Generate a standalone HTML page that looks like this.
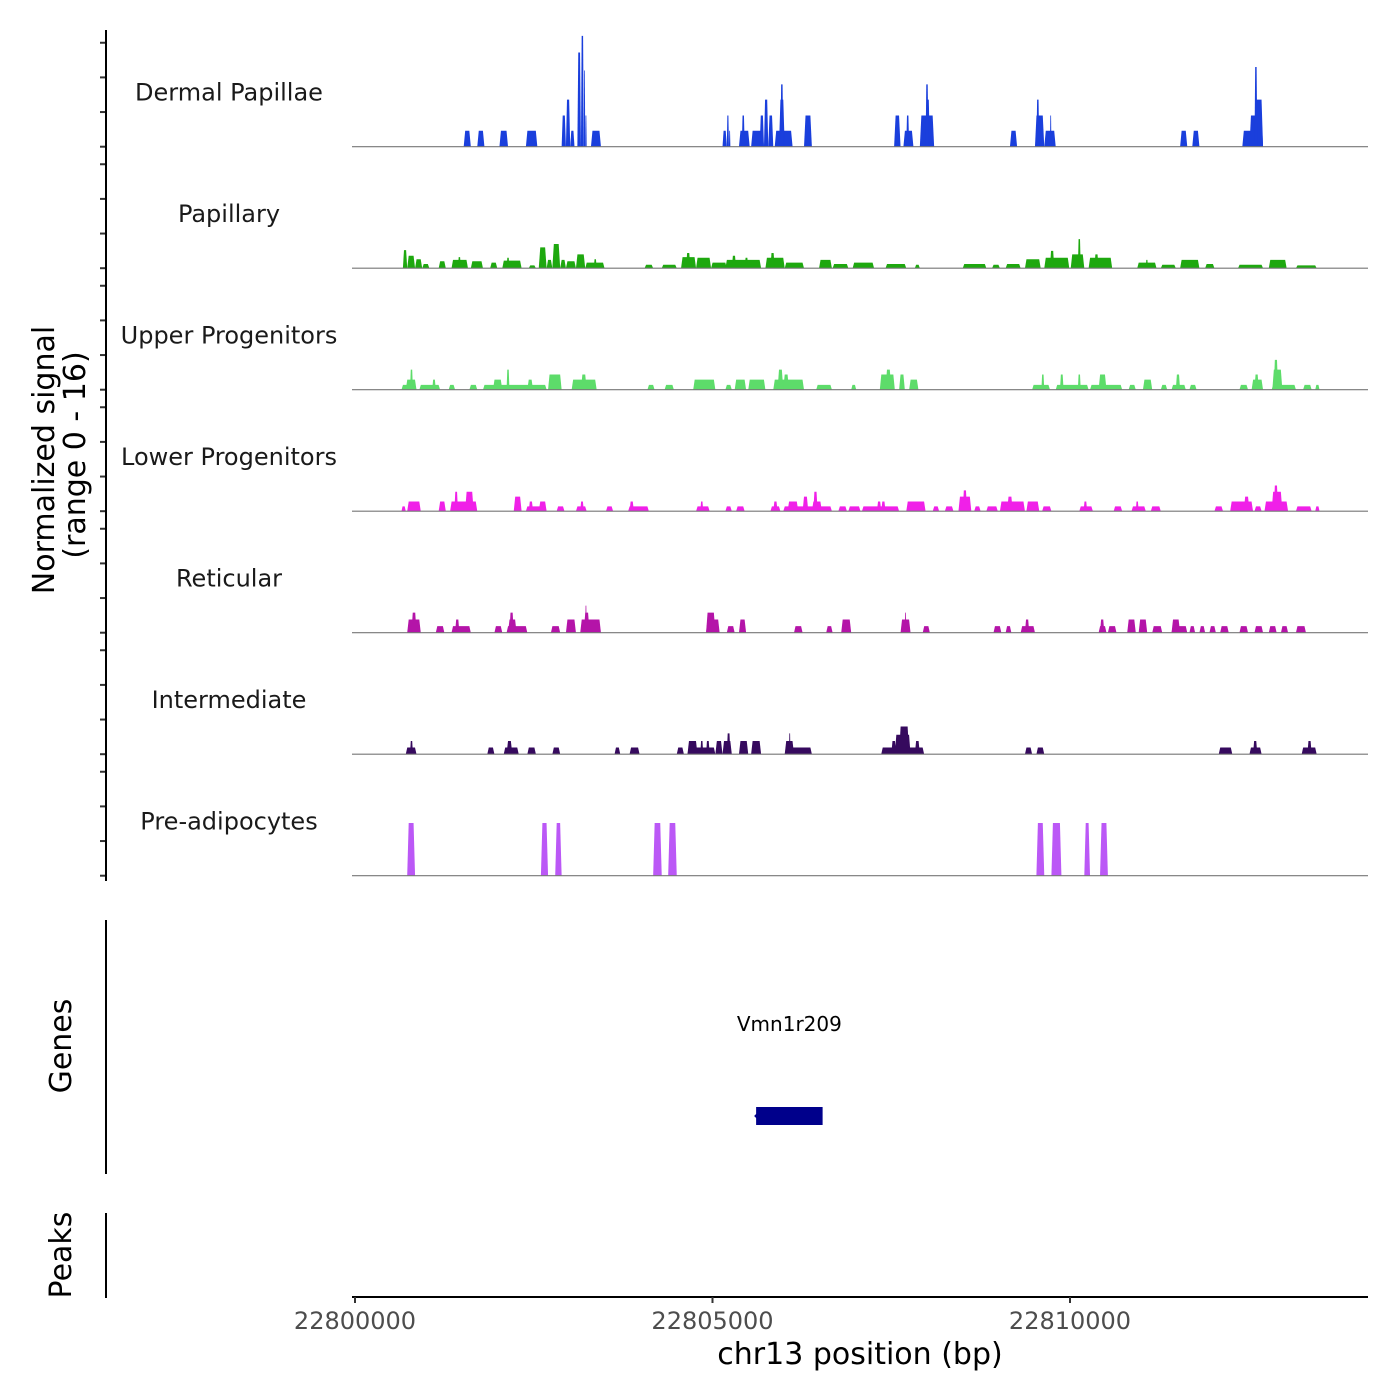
<!DOCTYPE html>
<html><head><meta charset="utf-8"><style>
html,body{margin:0;padding:0;background:#fff;}
svg{display:block;font-family:"DejaVu Sans","Liberation Sans",sans-serif;}
</style></head><body>
<svg id="chart" width="1400" height="1400" viewBox="0 0 1400 1400" xmlns="http://www.w3.org/2000/svg">
<rect width="1400" height="1400" fill="#fff"/>
<g id="tracks"></g>
<g id="yaxis"></g>
<text transform="translate(54,460) rotate(-90)" text-anchor="middle" font-size="30" fill="#000">Normalized signal</text>
<text transform="translate(85,455) rotate(-90)" text-anchor="middle" font-size="30" fill="#000">(range 0 - 16)</text>
<line x1="106" y1="920" x2="106" y2="1174" stroke="#000" stroke-width="2"/>
<text transform="translate(71,1046) rotate(-90)" text-anchor="middle" font-size="30" fill="#000">Genes</text>
<line x1="106" y1="1213" x2="106" y2="1298" stroke="#000" stroke-width="2"/>
<text transform="translate(71,1255) rotate(-90)" text-anchor="middle" font-size="30" fill="#000">Peaks</text>
<g id="genes"></g>
<g id="xaxis"></g>
<text x="860" y="1364" text-anchor="middle" font-size="30" fill="#000">chr13 position (bp)</text>
</svg>
<script>
// positions in kb offset from chr13:22,800,000; values = normalized signal
const regionStart = 22800000;
const trackNames = ["Dermal Papillae","Papillary","Upper Progenitors","Lower Progenitors","Reticular","Intermediate","Pre-adipocytes"];
const trackColors = ["#1a3fdc","#1ea80f","#5ddc6a","#f020e8","#b414a8","#360a5e","#bb58f6"];
const yTicks = [0,5,10,15];
const xTicks = [22800000,22805000,22810000];
const dermal = [[1.52,1.62,2.3],[1.71,1.81,2.3],[2.02,2.14,2.3],[2.39,2.55,2.3],[2.89,2.95,4.5],[2.95,3.01,6.8],[3.01,3.07,2.3],[3.11,3.16,13.6],[3.16,3.20,16],[3.20,3.22,11],[3.22,3.24,4.5],[3.30,3.44,2.3],[5.14,5.20,2.3],[5.20,5.23,4.5],[5.23,5.25,2.3],[5.37,5.52,2.3],[5.41,5.45,4.5],[5.54,5.72,2.3],[5.66,5.72,4.5],[5.72,5.78,6.8],[5.78,5.85,4.5],[5.87,6.12,2.3],[5.93,6.01,6.8],[5.95,5.99,9],[6.28,6.39,4.5],[7.54,7.63,4.5],[7.67,7.81,2.3],[7.71,7.75,4.5],[7.90,8.10,4.5],[7.98,8.04,6.8],[7.98,8.02,9],[9.16,9.26,2.3],[9.51,9.64,4.5],[9.53,9.57,6.8],[9.64,9.80,2.3],[9.72,9.74,4.5],[11.54,11.64,2.3],[11.71,11.81,2.3],[12.41,12.70,2.3],[12.51,12.70,4.5],[12.58,12.70,6.8],[12.58,12.62,11.5]];
const papillary = [[0.67,0.73,2.6],[0.73,0.84,1.8],[0.84,0.94,1.3],[0.94,1.04,0.6],[1.17,1.27,1.0],[1.35,1.58,1.2],[1.44,1.48,1.6],[1.62,1.79,1.0],[1.89,1.99,0.8],[2.06,2.33,1.1],[2.12,2.16,1.5],[2.43,2.53,0.4],[2.57,2.68,3.0],[2.68,2.76,1.2],[2.76,2.87,3.5],[2.87,2.95,1.2],[2.95,3.09,1.0],[3.09,3.22,2.0],[3.22,3.49,0.8],[3.34,3.38,1.3],[4.05,4.17,0.5],[4.29,4.50,0.5],[4.56,4.77,1.6],[4.63,4.69,2.2],[4.77,4.98,1.5],[4.98,5.20,0.8],[5.18,5.68,1.2],[5.27,5.33,1.8],[5.45,5.50,1.5],[5.74,6.01,1.5],[5.81,5.87,2.2],[6.01,6.28,0.8],[6.49,6.67,1.2],[6.68,6.90,0.6],[6.96,7.26,0.8],[7.42,7.71,0.6],[7.83,7.90,0.5],[8.50,8.83,0.6],[8.91,9.02,0.5],[9.10,9.31,0.6],[9.37,9.59,1.3],[9.64,9.99,1.5],[9.72,9.78,2.5],[10.01,10.20,2.0],[10.11,10.15,4.2],[10.26,10.59,1.5],[10.34,10.40,2.0],[10.94,11.21,0.8],[11.06,11.09,1.2],[11.27,11.48,0.5],[11.54,11.81,1.2],[11.89,12.02,0.6],[12.35,12.70,0.5],[12.78,13.03,1.2],[13.16,13.45,0.4]];
const upper = [[0.65,0.86,0.7],[0.71,0.86,1.45],[0.77,0.81,2.9],[0.90,1.19,0.7],[1.08,1.13,1.45],[1.31,1.40,0.7],[1.60,1.71,0.7],[1.79,2.68,0.7],[1.93,2.06,1.45],[2.12,2.16,2.9],[2.41,2.49,1.45],[2.70,2.89,2.2],[3.03,3.38,1.45],[3.16,3.24,2.2],[4.09,4.19,0.7],[4.33,4.46,0.7],[4.73,5.04,1.45],[5.18,5.27,0.7],[5.31,5.47,1.45],[5.50,5.74,1.45],[5.85,6.28,1.45],[5.91,5.99,2.9],[5.99,6.07,2.2],[6.45,6.67,0.7],[6.94,7.01,0.7],[7.34,7.55,2.2],[7.42,7.50,2.9],[7.61,7.69,2.2],[7.75,7.88,1.45],[9.47,9.72,0.7],[9.60,9.64,2.2],[9.80,10.26,0.7],[9.86,9.91,2.2],[10.11,10.15,2.2],[10.28,10.73,0.7],[10.40,10.51,2.2],[10.82,10.92,0.7],[11.02,11.15,1.45],[11.27,11.36,0.7],[11.42,11.62,0.7],[11.48,11.54,2.2],[11.67,11.77,0.7],[12.37,12.49,0.7],[12.54,12.70,1.45],[12.58,12.64,2.2],[12.82,13.16,0.7],[12.83,12.97,2.9],[12.85,12.91,4.3],[13.26,13.38,0.7],[13.43,13.49,0.7]];
const lower = [[0.65,0.71,0.7],[0.73,0.92,1.4],[1.17,1.27,1.4],[1.33,1.71,1.4],[1.39,1.44,2.8],[1.54,1.66,2.8],[2.22,2.33,2.1],[2.39,2.68,0.7],[2.43,2.49,1.4],[2.57,2.68,1.4],[2.82,2.93,0.7],[3.09,3.24,0.7],[3.15,3.20,1.4],[3.51,3.61,0.7],[3.82,4.11,0.7],[3.84,3.90,1.4],[4.77,4.96,0.7],[4.83,4.87,1.4],[5.18,5.27,0.7],[5.33,5.45,0.7],[5.81,5.95,0.7],[5.85,5.91,1.4],[5.99,6.67,0.7],[6.05,6.20,1.4],[6.26,6.34,2.1],[6.39,6.53,1.4],[6.41,6.47,2.8],[6.76,6.88,0.7],[6.90,7.07,0.7],[7.09,7.61,0.7],[7.30,7.36,1.4],[7.36,7.42,1.4],[7.71,7.98,1.4],[8.08,8.17,0.7],[8.25,8.37,0.7],[8.44,8.62,2.1],[8.50,8.56,3.0],[8.66,8.75,0.7],[8.83,8.99,0.7],[9.02,9.37,1.4],[9.12,9.20,2.1],[9.39,9.57,1.4],[9.61,9.74,0.7],[10.13,10.32,0.7],[10.19,10.24,1.4],[10.61,10.73,0.7],[10.86,11.06,0.7],[10.92,10.96,1.4],[11.13,11.27,0.7],[12.02,12.14,0.7],[12.24,12.56,1.4],[12.43,12.51,2.1],[12.58,12.68,0.7],[12.72,13.05,1.4],[12.82,12.97,2.8],[12.85,12.91,3.7],[13.16,13.38,0.7],[13.43,13.49,0.7]];
const reticular = [[0.73,0.92,1.9],[0.79,0.86,2.9],[1.13,1.25,0.95],[1.35,1.62,0.95],[1.40,1.46,1.9],[1.95,2.06,0.95],[2.12,2.41,0.95],[2.14,2.26,1.9],[2.16,2.22,2.9],[2.74,2.87,0.95],[2.95,3.09,1.9],[3.15,3.44,1.9],[3.20,3.28,2.9],[3.22,3.24,3.9],[4.91,5.10,1.9],[4.91,5.04,2.9],[5.20,5.31,0.95],[5.37,5.47,1.9],[6.14,6.26,0.95],[6.59,6.68,0.95],[6.80,6.94,1.9],[7.63,7.77,1.9],[7.69,7.71,2.9],[7.94,8.04,0.95],[8.93,9.04,0.95],[9.10,9.18,0.95],[9.31,9.51,0.95],[9.37,9.43,1.9],[10.40,10.51,0.95],[10.42,10.48,1.9],[10.53,10.65,0.95],[10.80,10.92,1.9],[10.96,11.08,1.9],[11.15,11.29,0.95],[11.42,11.64,0.95],[11.42,11.54,1.9],[11.67,11.75,0.95],[11.81,11.89,0.95],[11.95,12.04,0.95],[12.10,12.22,0.95],[12.37,12.49,0.95],[12.58,12.70,0.95],[12.78,12.89,0.95],[12.95,13.05,0.95],[13.16,13.30,0.95]];
const intermediate = [[0.71,0.86,0.97],[0.77,0.81,1.9],[1.85,1.95,0.97],[2.08,2.29,0.97],[2.12,2.20,1.9],[2.41,2.53,0.97],[2.76,2.87,0.97],[3.63,3.71,0.97],[3.84,3.98,0.97],[4.50,4.60,0.97],[4.65,5.04,0.97],[4.65,4.79,1.9],[4.83,4.87,1.9],[4.91,4.96,1.9],[5.04,5.14,1.9],[5.14,5.27,1.9],[5.20,5.25,3.0],[5.37,5.50,1.9],[5.54,5.68,1.9],[6.01,6.39,0.97],[6.01,6.14,1.9],[6.07,6.09,3.0],[7.36,7.96,0.97],[7.50,7.57,1.9],[7.55,7.77,2.8],[7.61,7.75,4.0],[7.83,7.90,1.9],[9.37,9.47,0.97],[9.53,9.64,0.97],[12.08,12.27,0.97],[12.51,12.68,0.97],[12.56,12.62,1.9],[13.24,13.45,0.97],[13.32,13.38,1.9]];
const preadipocytes = [[0.73,0.84,7.6],[2.60,2.70,7.6],[2.80,2.89,7.6],[4.17,4.29,7.6],[4.38,4.50,7.6],[9.53,9.64,7.6],[9.74,9.88,7.6],[10.20,10.28,7.6],[10.42,10.53,7.6]];
const trackData = [dermal,papillary,upper,lower,reticular,intermediate,preadipocytes];
const geneNames = ["Vmn1r209"];
const geneStartKb = [5.61];
const geneEndKb = [6.54];

const NS="http://www.w3.org/2000/svg";
const X0=355, PXKB=71.5, PLOT_L=352, PLOT_R=1368;
const BASE0=146.7, STRIDE=121.5, PXV=6.93;
function xScale(kb){return X0+kb*PXKB;}
function bpScale(bp){return xScale((bp-regionStart)/1000);}
function yScale(t,v){return BASE0+t*STRIDE - v*PXV;}
function mk(tag,attrs,parent){const e=document.createElementNS(NS,tag);for(const k in attrs)e.setAttribute(k,attrs[k]);parent.appendChild(e);return e;}

const tg=document.getElementById('tracks');
const ya=document.getElementById('yaxis');
trackData.forEach((blocks,t)=>{
  const g=mk('g',{},tg);
  
  
  const base=yScale(t,0);
  const lbl=mk('text',{x:229,y:base-46,'text-anchor':'middle','font-size':'24',fill:'#1a1a1a'},g);
  lbl.textContent=trackNames[t];
  
  
  blocks.forEach(b=>{
    const x1=xScale(b[0]),x2=xScale(b[1]),y=yScale(t,b[2]);
    const tp=Math.min(1.5,(x2-x1)/4);
    const p=mk('polygon',{points:`${x1},${base} ${x1+tp},${y} ${x2-tp},${y} ${x2},${base}`,fill:trackColors[t]},g);
    
    
  });
  const bl=mk('line',{x1:PLOT_L,x2:PLOT_R,y1:base,y2:base,stroke:'#777','stroke-width':'1.2'},g);
  
  
  yTicks.forEach(v=>{
    const yy=yScale(t,v);
    const tk=mk('line',{x1:100,x2:106,y1:yy,y2:yy,stroke:'#333','stroke-width':'2'},ya);
    
    
  });
});
const yl=mk('line',{x1:106,x2:106,y1:30,y2:881,stroke:'#000','stroke-width':'2'},ya);



const gg=document.getElementById('genes');
geneNames.forEach((n,i)=>{
  const x1=xScale(geneStartKb[i]),x2=xScale(geneEndKb[i]);
  const r=mk('rect',{x:x1,y:1107,width:x2-x1,height:18,fill:'#00008b'},gg);
  
  
  const a=mk('polygon',{points:`${x1-2},1116 ${x1+2},1112 ${x1+2},1120`,fill:'#00008b'},gg);
  
  
  const t=mk('text',{x:(x1+x2)/2,y:1031,'text-anchor':'middle','font-size':'20',fill:'#000'},gg);
  t.textContent=n;
  
  
});

const xa=document.getElementById('xaxis');
const xl=mk('line',{x1:PLOT_L,x2:PLOT_R,y1:1297,y2:1297,stroke:'#000','stroke-width':'2'},xa);


xTicks.forEach(bp=>{
  const x=bpScale(bp);
  const tk=mk('line',{x1:x,x2:x,y1:1297,y2:1303,stroke:'#333','stroke-width':'2'},xa);
  
  
  const t=mk('text',{x:x,y:1329,'text-anchor':'middle','font-size':'24',fill:'#4d4d4d'},xa);
  t.textContent=String(bp);
  
  
});
</script>
</body></html>
